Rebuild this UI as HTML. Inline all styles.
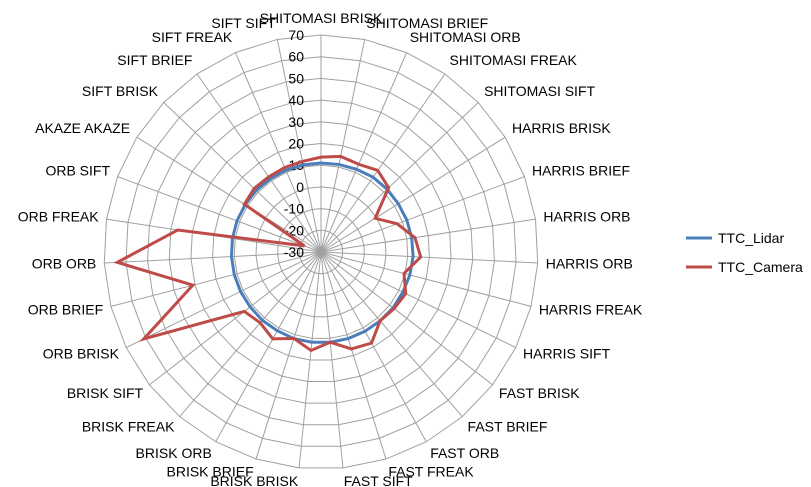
<!DOCTYPE html>
<html><head><meta charset="utf-8"><style>
html,body{margin:0;padding:0;background:#fff;}
svg{display:block;font-family:"Liberation Sans",sans-serif;}
</style></head><body>
<svg id="chart" width="811" height="487" viewBox="0 0 811 487">
<g id="grid"></g>
<g id="ticks"></g>
<g id="cats"></g>
<g id="series"></g>
<g>
  <g>
    <line x1="686" y1="238" x2="712" y2="238" stroke="#4a7ebb" stroke-width="3"/>
    <text x="718" y="243" font-size="14" fill="#000">TTC_Lidar</text>
  </g>
  <g>
    <line x1="686" y1="267" x2="712" y2="267" stroke="#be4b48" stroke-width="3"/>
    <text x="718" y="272" font-size="14" fill="#000">TTC_Camera</text>
  </g>
</g>
</svg>
<script>
const categories = ["SHITOMASI BRISK","SHITOMASI BRIEF","SHITOMASI ORB","SHITOMASI FREAK","SHITOMASI SIFT","HARRIS BRISK","HARRIS BRIEF","HARRIS ORB","HARRIS ORB","HARRIS FREAK","HARRIS SIFT","FAST BRISK","FAST BRIEF","FAST ORB","FAST FREAK","FAST SIFT","BRISK BRISK","BRISK BRIEF","BRISK ORB","BRISK FREAK","BRISK SIFT","ORB BRISK","ORB BRIEF","ORB ORB","ORB FREAK","ORB SIFT","AKAZE AKAZE","SIFT BRISK","SIFT BRIEF","SIFT FREAK","SIFT SIFT"];
const lidarValues = [11,11.2,11.5,12,12,12,12.2,12.3,12.5,12.3,12,12,11.8,11.8,11.8,11.8,11.8,11.8,11.5,11.5,11.3,11.3,11.3,11.3,11.3,11.3,11.2,11.2,11,11,11];
const cameraValues = [13.7,15,14,15.8,13,-0.6,7.4,13.8,16,9.5,13.5,12.6,11.8,18,16.8,11.8,15.6,11.7,15.8,13,14.7,61,31,64,36.8,-21.9,11.6,12.5,12.2,12.4,12.6];
const tickLabels = [-30,-20,-10,0,10,20,30,40,50,60,70];
const NS="http://www.w3.org/2000/svg";
const cx=321, cy=252, R=217, vMin=-30, vMax=70, N=categories.length;
function rScale(v){return (v-vMin)/(vMax-vMin)*R;}
function ang(i){return i*2*Math.PI/N;}
function pt(i,v){const r=rScale(v),a=ang(i);return [cx+r*Math.sin(a), cy-r*Math.cos(a)];}
function mk(tag,attrs,parent){const e=document.createElementNS(NS,tag);for(const k in attrs)e.setAttribute(k,attrs[k]);parent.appendChild(e);return e;}
const grid=document.getElementById('grid');
tickLabels.forEach(t=>{
  if(t===vMin)return;
  const pts=categories.map((c,i)=>pt(i,t).join(',')).join(' ');
  const ring=mk('polygon',{points:pts,fill:'none',stroke:'#a0a0a0','stroke-width':1},grid);
  
  
});
categories.forEach((c,i)=>{
  const p=pt(i,vMax);
  const s=mk('line',{x1:cx,y1:cy,x2:p[0],y2:p[1],stroke:'#a0a0a0','stroke-width':1},grid);
  
  
});
const ticks=document.getElementById('ticks');
tickLabels.forEach(t=>{
  const y=cy-rScale(t);
  const tx=mk('text',{x:cx-17,y:y+5,'text-anchor':'end','font-size':14,fill:'#000'},ticks);
  tx.textContent=t;
  
  
});
const cats=document.getElementById('cats');
categories.forEach((c,i)=>{
  const a=ang(i), s=Math.sin(a), co=Math.cos(a);
  const r=R+8;
  const x=cx+r*s, y=cy-r*co;
  let anchor='middle';
  if(s>0.05)anchor='start'; else if(s<-0.05)anchor='end';
  const dy= co>0 ? 5 - co*9 : 5 - co*5;
  const tx=mk('text',{x:x,y:y+dy,'text-anchor':anchor,'font-size':14,fill:'#000'},cats);
  tx.textContent=c;
  
  
});
const series=document.getElementById('series');
function drawSeries(vals,color,name){
  const pts=vals.map((v,i)=>pt(i,v).join(',')).join(' ');
  const pl=mk('polygon',{points:pts,fill:'none',stroke:color,'stroke-width':3,'stroke-linejoin':'miter'},series);
  
  
}
drawSeries(lidarValues,'#4a7ebb','series-ttc-lidar');
drawSeries(cameraValues,'#be4b48','series-ttc-camera');
</script>
</body></html>
